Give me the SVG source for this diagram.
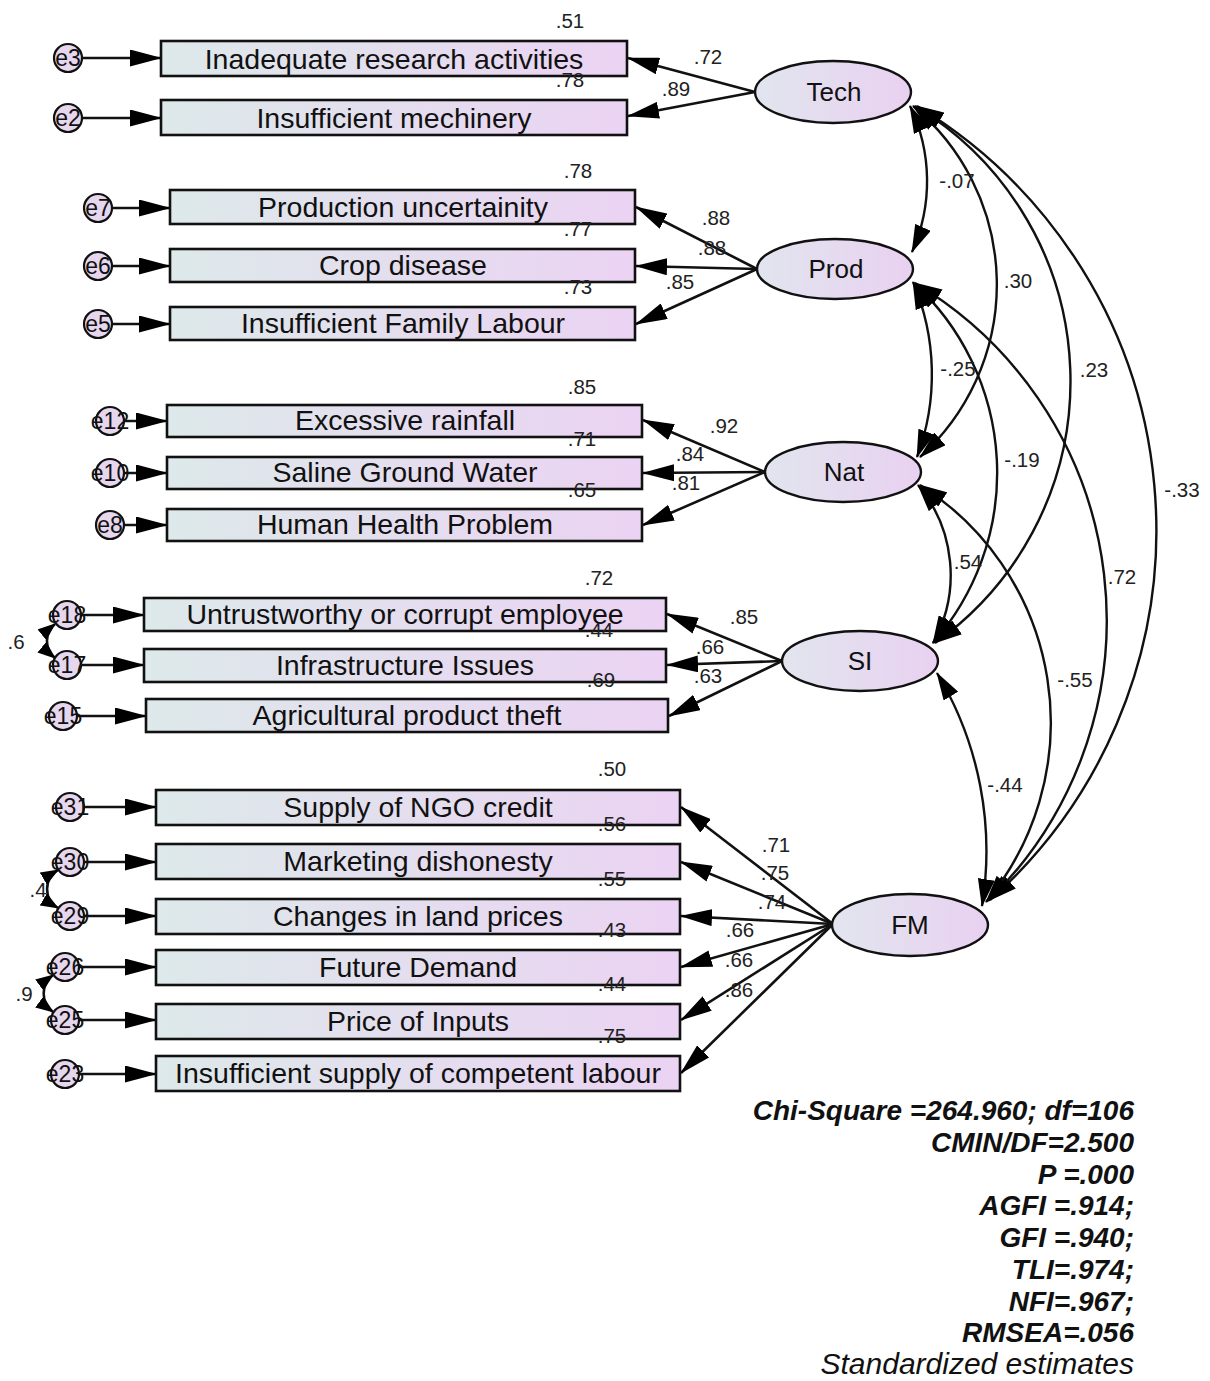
<svg xmlns="http://www.w3.org/2000/svg" width="1210" height="1381" viewBox="0 0 1210 1381">
<style>
.box{fill:url(#gBox);stroke:#111;stroke-width:2.6}
.lat{fill:url(#gLat);stroke:#111;stroke-width:2.4}
.err{fill:#e6d7ee;stroke:#111;stroke-width:2.2}
.t{font-family:"Liberation Sans",Arial,sans-serif;font-size:28.5px;fill:#111;text-anchor:middle;dominant-baseline:central}
.lt{font-family:"Liberation Sans",Arial,sans-serif;font-size:26px;fill:#111;text-anchor:middle;dominant-baseline:central}
.et{font-family:"Liberation Sans",Arial,sans-serif;font-size:23px;fill:#111;text-anchor:middle;dominant-baseline:central}
.n{font-family:"Liberation Sans",Arial,sans-serif;font-size:20.5px;fill:#222;text-anchor:middle;dominant-baseline:central}
.fit{font-family:"Liberation Sans",Arial,sans-serif;font-size:28px;font-weight:bold;font-style:italic;fill:#111;text-anchor:end}
.fit2{font-family:"Liberation Sans",Arial,sans-serif;font-size:30px;font-style:italic;fill:#111;text-anchor:end}
.ln{fill:none;stroke:#111;stroke-width:2.6;marker-end:url(#ah)}
.cv{fill:none;stroke:#111;stroke-width:2.4;marker-start:url(#ch);marker-end:url(#ch)}
.ecv{fill:none;stroke:#111;stroke-width:2.6;marker-start:url(#sh);marker-end:url(#sh)}
</style>
<defs>
<linearGradient id="gBox" x1="0" y1="0" x2="1" y2="0"><stop offset="0" stop-color="#dde9ea"/><stop offset="1" stop-color="#ebd3f3"/></linearGradient>
<linearGradient id="gLat" x1="0" y1="0" x2="1" y2="0"><stop offset="0" stop-color="#e1e5ee"/><stop offset="1" stop-color="#e9d1f1"/></linearGradient>
<marker id="ah" markerUnits="userSpaceOnUse" markerWidth="32" markerHeight="17" viewBox="0 0 32 17" refX="31" refY="8.5" orient="auto-start-reverse"><path d="M0,0 L32,8.5 L0,17 z" fill="#000"/></marker>
<marker id="ch" markerUnits="userSpaceOnUse" markerWidth="28" markerHeight="17" viewBox="0 0 28 17" refX="27" refY="8.5" orient="auto-start-reverse"><path d="M0,0 L28,8.5 L0,17 z" fill="#000"/></marker>
<marker id="sh" markerUnits="userSpaceOnUse" markerWidth="18" markerHeight="14" viewBox="0 0 18 14" refX="17" refY="7" orient="auto-start-reverse"><path d="M0,0 L18,7 L0,14 z" fill="#000"/></marker>
</defs>
<rect width="1210" height="1381" fill="#fff"/>

<g id="connectors">
<line class="ln" x1="82" y1="58" x2="161" y2="58"/>
<line class="ln" x1="82" y1="118" x2="161" y2="118"/>
<line class="ln" x1="112" y1="208" x2="170" y2="208"/>
<line class="ln" x1="112" y1="266" x2="170" y2="266"/>
<line class="ln" x1="112" y1="324" x2="170" y2="324"/>
<line class="ln" x1="124" y1="421" x2="167" y2="421"/>
<line class="ln" x1="124" y1="473" x2="167" y2="473"/>
<line class="ln" x1="124" y1="525" x2="167" y2="525"/>
<line class="ln" x1="81" y1="615" x2="144" y2="615"/>
<line class="ln" x1="81" y1="665" x2="144" y2="665"/>
<line class="ln" x1="77" y1="716" x2="146" y2="716"/>
<line class="ln" x1="84" y1="807" x2="156" y2="807"/>
<line class="ln" x1="84" y1="862" x2="156" y2="862"/>
<line class="ln" x1="84" y1="916" x2="156" y2="916"/>
<line class="ln" x1="79" y1="967" x2="156" y2="967"/>
<line class="ln" x1="79" y1="1020" x2="156" y2="1020"/>
<line class="ln" x1="79" y1="1074" x2="156" y2="1074"/>
<line class="ln" x1="755" y1="92" x2="628" y2="58"/>
<line class="ln" x1="755" y1="92" x2="628" y2="116"/>
<line class="ln" x1="757" y1="269" x2="636" y2="207"/>
<line class="ln" x1="757" y1="269" x2="636" y2="266"/>
<line class="ln" x1="757" y1="269" x2="636" y2="324"/>
<line class="ln" x1="765" y1="472" x2="643" y2="420"/>
<line class="ln" x1="765" y1="472" x2="643" y2="473"/>
<line class="ln" x1="765" y1="472" x2="643" y2="525"/>
<line class="ln" x1="782" y1="661" x2="667" y2="614"/>
<line class="ln" x1="782" y1="661" x2="667" y2="665"/>
<line class="ln" x1="782" y1="661" x2="669" y2="716"/>
<line class="ln" x1="833" y1="924" x2="681" y2="807"/>
<line class="ln" x1="833" y1="924" x2="681" y2="862"/>
<line class="ln" x1="833" y1="924" x2="681" y2="916"/>
<line class="ln" x1="833" y1="924" x2="681" y2="967"/>
<line class="ln" x1="833" y1="924" x2="681" y2="1020"/>
<line class="ln" x1="833" y1="924" x2="681" y2="1073"/>
<path class="cv" d="M910,106 A174,174 0 0 1 912,252"/>
<path class="cv" d="M913,106 A232,232 0 0 1 920,457"/>
<path class="cv" d="M915,106 A321,321 0 0 1 935,643"/>
<path class="cv" d="M917,106 A495,495 0 0 1 990,900"/>
<path class="cv" d="M913,282 A236,236 0 0 1 917,457"/>
<path class="cv" d="M914,283 A258,258 0 0 1 933,643"/>
<path class="cv" d="M915,283 A392,392 0 0 1 988,901"/>
<path class="cv" d="M918,485 A140,140 0 0 1 933,643"/>
<path class="cv" d="M920,485 A281,281 0 0 1 986,902"/>
<path class="cv" d="M937,673 A345,345 0 0 1 982,906"/>
<path class="ecv" d="M55,624 A22,22 0 0 0 55,658"/>
<path class="ecv" d="M58,870 A22,22 0 0 0 58,908"/>
<path class="ecv" d="M53,975 A23,23 0 0 0 53,1012"/>
</g>

<g id="coef">
<text class="n" x="708" y="56">.72</text>
<text class="n" x="676" y="88">.89</text>
<text class="n" x="716" y="217">.88</text>
<text class="n" x="712" y="247">.88</text>
<text class="n" x="680" y="281">.85</text>
<text class="n" x="724" y="425">.92</text>
<text class="n" x="690" y="453">.84</text>
<text class="n" x="686" y="482">.81</text>
<text class="n" x="744" y="616">.85</text>
<text class="n" x="710" y="646">.66</text>
<text class="n" x="708" y="675">.63</text>
<text class="n" x="776" y="844">.71</text>
<text class="n" x="775" y="872">.75</text>
<text class="n" x="772" y="901">.74</text>
<text class="n" x="740" y="929">.66</text>
<text class="n" x="739" y="959">.66</text>
<text class="n" x="739" y="989">.86</text>
<text class="n" x="957" y="180">-.07</text>
<text class="n" x="1018" y="280">.30</text>
<text class="n" x="1094" y="369">.23</text>
<text class="n" x="1182" y="489">-.33</text>
<text class="n" x="958" y="368">-.25</text>
<text class="n" x="1022" y="459">-.19</text>
<text class="n" x="1122" y="576">.72</text>
<text class="n" x="968" y="561">.54</text>
<text class="n" x="1075" y="679">-.55</text>
<text class="n" x="1005" y="784">-.44</text>
<text class="n" x="16" y="641">.6</text>
<text class="n" x="38" y="889">.4</text>
<text class="n" x="24" y="993">.9</text>
</g>

<g id="n_b1"><rect class="box" x="161" y="41" width="466" height="35"/><text class="t" x="394" y="59">Inadequate research activities</text><text class="n" x="570" y="20">.51</text></g>
<g id="n_b2"><rect class="box" x="161" y="100" width="466" height="35"/><text class="t" x="394" y="118">Insufficient mechinery</text><text class="n" x="570" y="79">.78</text></g>
<g id="n_b3"><rect class="box" x="170" y="190" width="465" height="34"/><text class="t" x="403" y="207">Production uncertainity</text><text class="n" x="578" y="170">.78</text></g>
<g id="n_b4"><rect class="box" x="170" y="249" width="465" height="33"/><text class="t" x="403" y="265">Crop disease</text><text class="n" x="578" y="228">.77</text></g>
<g id="n_b5"><rect class="box" x="170" y="307" width="465" height="33"/><text class="t" x="403" y="323">Insufficient Family Labour</text><text class="n" x="578" y="286">.73</text></g>
<g id="n_b6"><rect class="box" x="167" y="405" width="475" height="32"/><text class="t" x="405" y="420">Excessive rainfall</text><text class="n" x="582" y="386">.85</text></g>
<g id="n_b7"><rect class="box" x="167" y="457" width="475" height="32"/><text class="t" x="405" y="472">Saline Ground Water</text><text class="n" x="582" y="438">.71</text></g>
<g id="n_b8"><rect class="box" x="167" y="509" width="475" height="32"/><text class="t" x="405" y="524">Human Health Problem</text><text class="n" x="582" y="489">.65</text></g>
<g id="n_b9"><rect class="box" x="144" y="598" width="522" height="33"/><text class="t" x="405" y="614">Untrustworthy or corrupt employee</text><text class="n" x="599" y="577">.72</text></g>
<g id="n_b10"><rect class="box" x="144" y="649" width="522" height="33"/><text class="t" x="405" y="665">Infrastructure Issues</text><text class="n" x="599" y="629">.44</text></g>
<g id="n_b11"><rect class="box" x="146" y="699" width="522" height="33"/><text class="t" x="407" y="715">Agricultural product theft</text><text class="n" x="601" y="679">.69</text></g>
<g id="n_b12"><rect class="box" x="156" y="790" width="524" height="35"/><text class="t" x="418" y="807">Supply of NGO credit</text><text class="n" x="612" y="768">.50</text></g>
<g id="n_b13"><rect class="box" x="156" y="844" width="524" height="35"/><text class="t" x="418" y="861">Marketing dishonesty</text><text class="n" x="612" y="823">.56</text></g>
<g id="n_b14"><rect class="box" x="156" y="899" width="524" height="35"/><text class="t" x="418" y="916">Changes in land prices</text><text class="n" x="612" y="878">.55</text></g>
<g id="n_b15"><rect class="box" x="156" y="950" width="524" height="35"/><text class="t" x="418" y="967">Future Demand</text><text class="n" x="612" y="929">.43</text></g>
<g id="n_b16"><rect class="box" x="156" y="1004" width="524" height="35"/><text class="t" x="418" y="1021">Price of Inputs</text><text class="n" x="612" y="983">.44</text></g>
<g id="n_b17"><rect class="box" x="156" y="1056" width="524" height="35"/><text class="t" x="418" y="1073">Insufficient supply of competent labour</text><text class="n" x="612" y="1035">.75</text></g>

<g id="n_tech"><ellipse class="lat" cx="833" cy="92" rx="78" ry="31"/><text class="lt" x="834" y="92">Tech</text></g>
<g id="n_prod"><ellipse class="lat" cx="835" cy="269" rx="78" ry="30"/><text class="lt" x="836" y="269">Prod</text></g>
<g id="n_nat"><ellipse class="lat" cx="843" cy="472" rx="78" ry="30"/><text class="lt" x="844" y="472">Nat</text></g>
<g id="n_si"><ellipse class="lat" cx="860" cy="661" rx="78" ry="30"/><text class="lt" x="860" y="661">SI</text></g>
<g id="n_fm"><ellipse class="lat" cx="910" cy="925" rx="78" ry="31"/><text class="lt" x="910" y="925">FM</text></g>

<g id="n_e3"><circle class="err" cx="68" cy="58" r="14"/><text class="et" x="68" y="58">e3</text></g>
<g id="n_e2"><circle class="err" cx="68" cy="118" r="14"/><text class="et" x="68" y="118">e2</text></g>
<g id="n_e7"><circle class="err" cx="98" cy="208" r="14"/><text class="et" x="98" y="208">e7</text></g>
<g id="n_e6"><circle class="err" cx="98" cy="266" r="14"/><text class="et" x="98" y="266">e6</text></g>
<g id="n_e5"><circle class="err" cx="98" cy="324" r="14"/><text class="et" x="98" y="324">e5</text></g>
<g id="n_e12"><circle class="err" cx="110" cy="421" r="14"/><text class="et" x="110" y="421">e12</text></g>
<g id="n_e10"><circle class="err" cx="110" cy="473" r="14"/><text class="et" x="110" y="473">e10</text></g>
<g id="n_e8"><circle class="err" cx="110" cy="525" r="14"/><text class="et" x="110" y="525">e8</text></g>
<g id="n_e18"><circle class="err" cx="67" cy="615" r="14"/><text class="et" x="67" y="615">e18</text></g>
<g id="n_e17"><circle class="err" cx="67" cy="665" r="14"/><text class="et" x="67" y="665">e17</text></g>
<g id="n_e15"><circle class="err" cx="63" cy="716" r="14"/><text class="et" x="63" y="716">e15</text></g>
<g id="n_e31"><circle class="err" cx="70" cy="807" r="14"/><text class="et" x="70" y="807">e31</text></g>
<g id="n_e30"><circle class="err" cx="70" cy="862" r="14"/><text class="et" x="70" y="862">e30</text></g>
<g id="n_e29"><circle class="err" cx="70" cy="916" r="14"/><text class="et" x="70" y="916">e29</text></g>
<g id="n_e26"><circle class="err" cx="65" cy="967" r="14"/><text class="et" x="65" y="967">e26</text></g>
<g id="n_e25"><circle class="err" cx="65" cy="1020" r="14"/><text class="et" x="65" y="1020">e25</text></g>
<g id="n_e23"><circle class="err" cx="65" cy="1074" r="14"/><text class="et" x="65" y="1074">e23</text></g>

<g id="fit">
<text class="fit" x="1134" y="1120">Chi-Square =264.960; df=106</text>
<text class="fit" x="1134" y="1152">CMIN/DF=2.500</text>
<text class="fit" x="1134" y="1184">P =.000</text>
<text class="fit" x="1134" y="1215">AGFI =.914;</text>
<text class="fit" x="1134" y="1247">GFI =.940;</text>
<text class="fit" x="1134" y="1279">TLI=.974;</text>
<text class="fit" x="1134" y="1311">NFI=.967;</text>
<text class="fit" x="1134" y="1342">RMSEA=.056</text>
<text class="fit2" x="1134" y="1374">Standardized estimates</text>
</g>
</svg>
